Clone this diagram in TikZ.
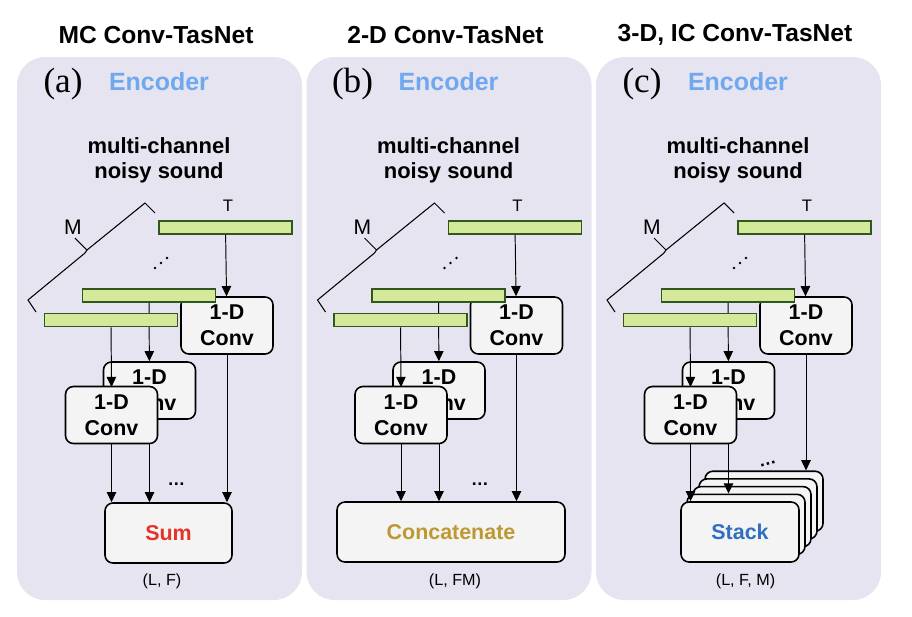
\documentclass[tikz,border=0pt]{standalone}
\usepackage{fontspec}
\setmainfont{Liberation Sans}
\newfontfamily\tagfont{Liberation Serif}
\usetikzlibrary{arrows.meta,positioning,calc}
\definecolor{panelbg}{RGB}{230,228,240}
\definecolor{barfill}{RGB}{212,234,154}
\definecolor{barline}{RGB}{48,88,30}
\definecolor{boxfill}{RGB}{244,244,244}
\definecolor{encblue}{RGB}{110,168,238}
\definecolor{sumred}{RGB}{228,52,40}
\definecolor{catgold}{RGB}{190,152,50}
\definecolor{stackblue}{RGB}{48,112,190}
\tikzset{
  bar/.style={draw=barline,fill=barfill,line width=0.9pt,minimum width=2.66cm,
              minimum height=0.26cm,inner sep=0pt},
  conv/.style={draw,line width=0.9pt,fill=boxfill,rounded corners=4.5pt,
               minimum width=1.84cm,minimum height=1.14cm,inner sep=0pt,align=center,
               font=\fontsize{12.2}{15}\selectfont\bfseries},
  outbox/.style={conv,minimum height=1.2cm},
  link/.style={->,line width=0.55pt},
  dimtext/.style={font=\fontsize{9.2}{11}\selectfont},
}

\begin{document}
\begin{tikzpicture}[x=0.02cm,y=-0.02cm,>={Triangle[length=5.8pt,width=5.4pt]}]
\useasboundingbox (0,0) rectangle (912,616);
% the three encoder panels share the input part
\foreach \o/\p/\tit in {0/a/MC Conv-TasNet,289.5/b/2-D Conv-TasNet,579/c/{3-D, IC Conv-TasNet}} {
\begin{scope}[shift={(\o,0)}]
  \fill[panelbg,rounded corners=16pt] (17,57) rectangle (302,600);
  \node[font=\fontsize{14}{16}\selectfont\bfseries] (title\p) at (156,35) {\tit};
  \node[font=\tagfont\fontsize{20}{22}\selectfont] (tag\p) at (63,84) {(\p)};
  \node[font=\fontsize{14.2}{16}\selectfont\bfseries,text=encblue] (enc\p) at (159,82) {Encoder};
  \node[font=\fontsize{12.5}{14.2}\selectfont\bfseries,align=center] (in\p) at (159,160) {multi-channel\\noisy sound};
  % channels
  \node[bar] (barT\p) at (225.5,227.5) {};
  \node[font=\fontsize{9.5}{11}\selectfont] (T\p) at (228,206) {T};
  \node[conv] (convT\p) at (227,325.5) {1-D\\Conv};
  \draw[link] (barT\p) -- (convT\p);
  \node[bar] (barM\p) at (149,295.5) {};
  \node[conv] (convM\p) at (149.5,390.5) {1-D\\Conv};
  \draw[link] (barM\p) -- (convM\p);
  \node[bar] (barF\p) at (111,320) {};
  \coordinate (inF\p) at (111.5,387);
  \draw[link] (barF\p) -- (inF\p);
  \node[conv] (convF\p) at (111.5,415) {1-D\\Conv};
  \coordinate (outM\p) at (149.5,443);
  % M brace
  \draw[line width=0.6pt] (36,312) -- (28,300) -- (85,253) -- (87,250) -- (145,203) -- (155,213)
        (87,250) -- (75,238);
  \node[font=\fontsize{12}{14}\selectfont] (M\p) at (73,227) {M};
  \foreach \dx/\dy in {155/268,161/263,167/258}
    \fill (\dx,\dy) circle (1.4);
\end{scope}
}
% (a) sum
\node[outbox,minimum width=2.54cm] (sum) at (168.5,533) {\textcolor{sumred}{Sum}};
\draw[link] (convTa) -- (convTa |- sum.north);
\draw[link] (convFa) -- (convFa |- sum.north);
\draw[link] (outMa) -- (outMa |- sum.north);
\node[font=\bfseries] (dotsa) at (176.5,484) {\dots};
\node[dimtext] (dima) at (162,581) {(L, F)};
% (b) concatenate
\node[outbox,minimum width=4.56cm] (cat) at (451,532) {\textcolor{catgold}{Concatenate}};
\draw[link] (convTb) -- (convTb |- cat.north);
\draw[link] (convFb) -- (convFb |- cat.north);
\draw[link] (outMb) -- (outMb |- cat.north);
\node[font=\bfseries] (dotsb) at (480,484) {\dots};
\node[dimtext] (dimb) at (455,581) {(L, FM)};
% (c) stack
\foreach \k in {4,3,2,1} {
  \node[outbox,minimum width=2.36cm] (stack\k) at (740+6*\k,532-7.7*\k) {};
}
\node[outbox,minimum width=2.36cm] (stack0) at (740,532) {\textcolor{stackblue}{Stack}};
\draw[link] (convFc) -- (convFc |- stack0.north);
\draw[link] (outMc) -- (outMc |- stack1.north);
\draw[link] (convTc) -- (convTc |- stack4.north);
\node[font=\bfseries,rotate=15] (dotsc) at (768,464) {\dots};
\node[dimtext] (dimc) at (745.5,581) {(L, F, M)};
\end{tikzpicture}
\end{document}
